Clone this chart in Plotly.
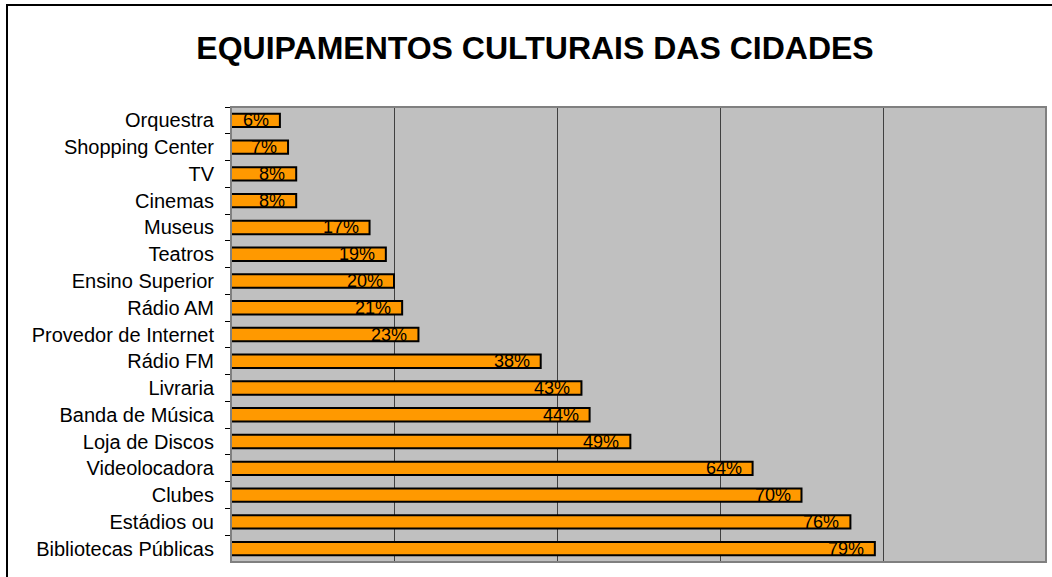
import plotly.graph_objects as go

categories = ["Orquestra", "Shopping Center", "TV", "Cinemas", "Museus", "Teatros",
              "Ensino Superior", "Rádio AM", "Provedor de Internet", "Rádio FM",
              "Livraria", "Banda de Música", "Loja de Discos", "Videolocadora",
              "Clubes", "Estádios ou", "Bibliotecas Públicas"]
values = [6, 7, 8, 8, 17, 19, 20, 21, 23, 38, 43, 44, 49, 64, 70, 76, 79]
labels = [f"{v}%" for v in values]
title_text = "EQUIPAMENTOS CULTURAIS DAS CIDADES"

W, H = 1052, 577
L, R, T, B = 231, 6, 107, 15

fig = go.Figure()
fig.add_trace(go.Bar(
    x=values, y=categories, orientation="h",
    width=0.5,
    marker=dict(color="#FF9900", line=dict(color="black", width=2)),
    hoverinfo="x+y",
))

for v, c, t in zip(values, categories, labels):
    fig.add_annotation(x=v, y=c, text=t, showarrow=False, xanchor="right",
                       xshift=-9, yshift=0,
                       font=dict(family="Liberation Sans, Arial", size=18, color="black"))

pw = W - L - R
ph = H - T - B
# outer chart frame
fig.add_shape(type="rect", xref="paper", yref="paper",
              x0=(7 - L) / pw, x1=1 + 20 / pw,
              y0=-20 / ph, y1=1 + (T - 5) / ph,
              line=dict(color="black", width=2), layer="below")
# plot area border
fig.add_shape(type="rect", xref="paper", yref="paper", x0=0, x1=1, y0=0, y1=1,
              line=dict(color="#808080", width=2), layer="above")

fig.update_layout(
    width=W, height=H,
    margin=dict(l=L, r=R, t=T, b=B, pad=0),
    paper_bgcolor="white", plot_bgcolor="#C0C0C0",
    showlegend=False,
    title=dict(text=f"<b>{title_text}</b>", x=535 / W, xanchor="center",
               y=1 - 48 / H, yanchor="middle",
               font=dict(family="Liberation Sans, Arial", size=32, color="black")),
    font=dict(family="Liberation Sans, Arial", color="black"),
)
fig.update_xaxes(range=[0, 100], dtick=20, showticklabels=False, showgrid=True,
                 gridcolor="#404040", gridwidth=1, zeroline=False, showline=False,
                 fixedrange=True)
fig.update_yaxes(categoryorder="array", categoryarray=categories, autorange="reversed",
                 tickson="boundaries", ticks="outside", ticklen=5, tickcolor="black",
                 tickwidth=1, showgrid=False, showline=False,
                 tickfont=dict(family="Liberation Sans, Arial", size=20, color="black"),
                 ticklabelstandoff=16, fixedrange=True)

fig.write_html("out.html", config={"displayModeBar": False},
               post_script="document.body.style.margin='0';document.body.style.overflow='hidden';")
